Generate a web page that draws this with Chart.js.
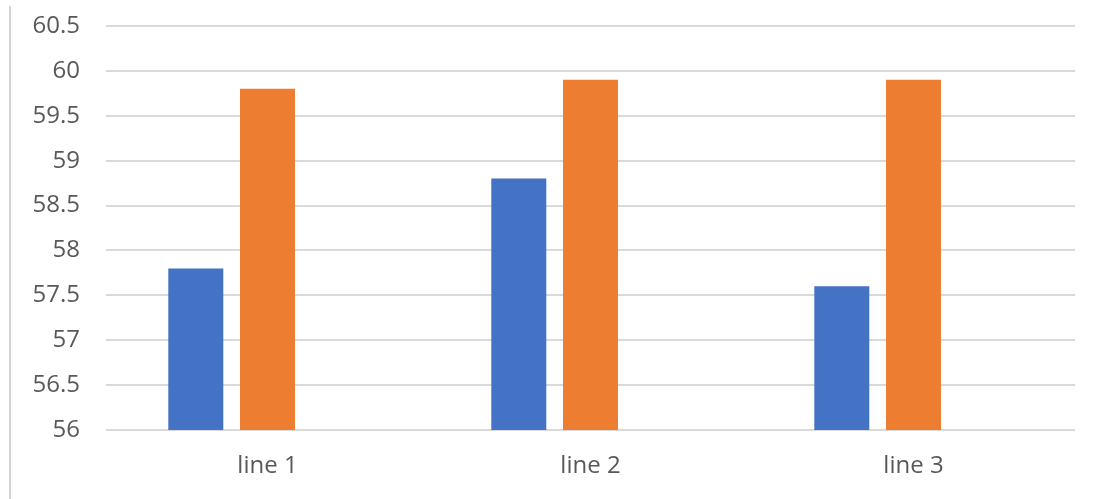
<!DOCTYPE html>
<html>
<head>
<meta charset="utf-8">
<script src="https://cdn.jsdelivr.net/npm/chart.js@4/dist/chart.umd.min.js"></script>
<style>
  html, body { margin: 0; padding: 0; background: #ffffff; }
  #wrap { position: relative; width: 1097px; height: 499px; }
  #edge { position: absolute; left: 9px; top: 6px; width: 2px; height: 493px; background: #d4d4d4; }
  canvas { position: absolute; left: 0; top: 0; }
</style>
</head>
<body>
<div id="wrap">
  <div id="edge"></div>
  <canvas id="chart" width="1097" height="499"></canvas>
</div>
<script>
// Categories and series values
const categories = ['line 1', 'line 2', 'line 3'];
const series1 = [57.8, 58.8, 57.6];
const series2 = [59.8, 59.9, 59.9];
const series3 = [null, null, null];

// Value axis range
const yMin = 56;
const yMax = 60.5;
const yStep = 0.5;

const FONT = "'Open Sans', 'Noto Sans', sans-serif";

new Chart(document.getElementById('chart'), {
  type: 'bar',
  data: {
    labels: categories,
    datasets: [
      { label: 'Series 1', data: series1, backgroundColor: '#4472c4' },
      { label: 'Series 2', data: series2, backgroundColor: '#ed7d31' },
      { label: 'Series 3', data: series3, backgroundColor: '#a5a5a5' }
    ]
  },
  options: {
    responsive: false,
    animation: false,
    devicePixelRatio: 1,
    categoryPercentage: 0.666,
    barPercentage: 0.767,
    layout: { padding: { left: 0, right: 22, top: 26, bottom: 0 } },
    plugins: {
      legend: { display: false },
      tooltip: { enabled: false }
    },
    scales: {
      x: {
        afterFit: (scale) => { scale.height = 69; },
        grid: { display: false, drawTicks: false },
        border: { display: false },
        ticks: {
          color: '#595959',
          font: { family: FONT, size: 24 },
          padding: 22
        }
      },
      y: {
        min: yMin,
        max: yMax,
        afterFit: (scale) => {
          scale.width = 106;
          scale.paddingTop = 0;
          scale.paddingBottom = 0;
        },
        grid: { color: '#d9d9d9', lineWidth: 2, drawTicks: false },
        border: { display: false },
        ticks: {
          stepSize: yStep,
          color: '#595959',
          font: { family: FONT, size: 24 },
          padding: 26,
          callback: (v) => String(Math.round(v * 10) / 10)
        }
      }
    }
  }
});
</script>
</body>
</html>
